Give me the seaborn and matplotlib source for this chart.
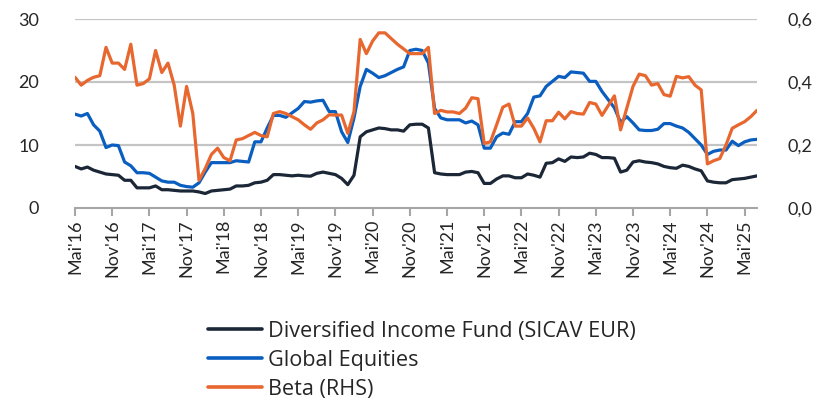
import numpy as np
import pandas as pd
import matplotlib
matplotlib.use("Agg")
import matplotlib.pyplot as plt
import seaborn as sns

# ---- data (monthly, May 2016 .. Jul 2025) ----
start_month = "2016-05-01"
diversified = [6.6, 6.2, 6.5, 6.0, 5.7, 5.4, 5.3, 5.2, 4.4, 4.4, 3.2, 3.2, 3.2, 3.5, 2.9, 2.9, 2.8, 2.7, 2.7,
               2.7, 2.55, 2.3, 2.7, 2.8, 2.9, 3.0, 3.5, 3.5, 3.6, 4.0, 4.1, 4.4, 5.3, 5.3, 5.2, 5.1, 5.2,
               5.1, 5.05, 5.5, 5.7, 5.5, 5.3, 4.7, 3.7, 5.2, 11.3, 12.1, 12.4, 12.7, 12.6, 12.4, 12.4, 12.2, 13.2, 13.3, 13.3, 12.7,
               5.6, 5.4, 5.3, 5.3, 5.3, 5.7, 5.8, 5.6, 3.9, 3.9, 4.6, 5.1, 5.1, 4.8, 4.8, 5.4, 5.2, 4.9,
               7.1, 7.2, 7.8, 7.4, 8.1, 8.0, 8.1, 8.7, 8.5, 8.0, 8.0, 7.9, 5.7, 6.0, 7.3, 7.5,
               7.3, 7.2, 7.0, 6.6, 6.4, 6.3, 6.8, 6.6, 6.2, 5.9, 4.3, 4.1, 4.0, 4.0, 4.5, 4.6, 4.7, 4.9, 5.1]
global_eq = [14.9, 14.6, 15.0, 13.2, 12.2, 9.6, 10.0, 9.9, 7.3, 6.7, 5.6, 5.6, 5.5, 4.9, 4.3, 4.1, 4.1, 3.6, 3.4,
             3.3, 4.0, 5.7, 7.2, 7.2, 7.2, 7.2, 7.5, 7.4, 7.3, 10.5, 10.5, 12.7, 14.7, 14.7, 14.4, 15.1, 15.8,
             16.9, 16.8, 17.0, 17.1, 15.3, 15.3, 12.1, 10.4, 14.3, 19.3, 22.0, 21.4, 20.7, 21.0, 21.5, 22.0, 22.4, 25.0, 25.2, 25.0, 23.0,
             15.8, 14.3, 14.0, 14.0, 14.0, 13.5, 13.8, 13.2, 9.5, 9.5, 11.3, 11.9, 11.7, 13.7, 13.7, 15.0, 17.6, 17.8,
             19.3, 20.1, 20.9, 20.7, 21.6, 21.5, 21.4, 20.1, 20.1, 18.5, 17.2, 15.9, 13.6, 14.5, 13.5, 12.4,
             12.3, 12.3, 12.5, 13.4, 13.4, 13.0, 12.7, 12.0, 11.0, 10.0, 8.5, 9.0, 9.2, 9.2, 10.6, 9.9, 10.5, 10.8, 10.9]
beta = [0.415, 0.39, 0.405, 0.415, 0.42, 0.51, 0.46, 0.46, 0.44, 0.52, 0.39, 0.395, 0.41, 0.50, 0.43, 0.46, 0.39, 0.26, 0.386,
        0.30, 0.088, 0.125, 0.17, 0.19, 0.16, 0.15, 0.216, 0.22, 0.23, 0.24, 0.23, 0.226, 0.30, 0.306, 0.30, 0.29, 0.28,
        0.264, 0.25, 0.27, 0.28, 0.296, 0.295, 0.295, 0.237, 0.306, 0.535, 0.49, 0.53, 0.556, 0.556, 0.538, 0.52, 0.505, 0.49, 0.49, 0.49, 0.51,
        0.30, 0.31, 0.305, 0.305, 0.30, 0.317, 0.35, 0.347, 0.205, 0.21, 0.264, 0.32, 0.33, 0.26, 0.26, 0.286, 0.253, 0.21,
        0.277, 0.277, 0.304, 0.283, 0.306, 0.30, 0.298, 0.335, 0.33, 0.294, 0.325, 0.356, 0.248, 0.317, 0.386, 0.425,
        0.42, 0.39, 0.395, 0.36, 0.355, 0.418, 0.413, 0.417, 0.39, 0.375, 0.14, 0.15, 0.157, 0.20, 0.253, 0.264, 0.274, 0.29, 0.31]
tick_labels = ["Mai'16", "Nov'16", "Mai'17", "Nov'17", "Mai'18", "Nov'18", "Mai'19", "Nov'19",
               "Mai'20", "Nov'20", "Mai'21", "Nov'21", "Mai'22", "Nov'22", "Mai'23", "Nov'23",
               "Mai'24", "Nov'24", "Mai'25"]
left_ticks = [0, 10, 20, 30]
right_ticks = [0.0, 0.2, 0.4, 0.6]
names = ["Diversified Income Fund (SICAV EUR)", "Global Equities", "Beta (RHS)"]
colors = ["#1b2737", "#0a5ec0", "#e8672f"]

n = len(diversified)
months = np.arange(n)
df = pd.DataFrame({"m": np.concatenate([months, months]),
                   "value": diversified + global_eq,
                   "series": [names[0]] * n + [names[1]] * n})
df_beta = pd.DataFrame({"m": months, "beta": beta})

sns.set_theme(style="white")
plt.rcParams["font.family"] = ["Lato", "DejaVu Sans"]

LW = 2.3
fig = plt.figure(figsize=(8.35, 4.04), dpi=100)
ax = fig.add_axes([75 / 835, 1 - 208 / 404, (757 - 75) / 835, (208 - 19) / 404])
sns.lineplot(data=df, x="m", y="value", hue="series", palette=colors[:2], linewidth=LW,
             ax=ax, legend=False)
ax2 = ax.twinx()
sns.lineplot(data=df_beta, x="m", y="beta", color=colors[2], linewidth=LW, ax=ax2, legend=False)

ax.set_xlim(0, n - 1)
ax.set_ylim(0, 30)
ax2.set_ylim(0, 0.6)
ax.set_yticks(left_ticks)
ax.set_yticklabels([str(t) for t in left_ticks])
ax2.set_yticks(right_ticks)
ax2.set_yticklabels([f"{t:.1f}".replace(".", ",") for t in right_ticks])
ax.set_xticks(np.arange(0, n, 6)[:len(tick_labels)])
ax.set_xticklabels(tick_labels, rotation=90)
ax.set_xlabel("")
ax.set_ylabel("")
ax2.set_ylabel("")

for a in (ax, ax2):
    for s in a.spines.values():
        s.set_visible(False)
ax.spines["bottom"].set_visible(True)
ax.spines["bottom"].set_color("#a6a6a6")
ax.spines["bottom"].set_linewidth(1.5)
ax.grid(axis="y", color="#c4c4c4", linewidth=1.6)
ax.set_axisbelow(True)
ax.tick_params(axis="x", bottom=True, length=6, width=1.5, color="#a6a6a6",
               labelsize=13, labelcolor="#262626", pad=2)
ax.tick_params(axis="y", left=False, labelsize=13, labelcolor="#262626", pad=20)
ax2.tick_params(axis="y", right=False, labelsize=13, labelcolor="#262626", pad=16)
ax.yaxis.get_gridlines()[0].set_visible(False)

handles = [plt.Line2D([], [], color=c, linewidth=LW + 0.3) for c in colors]
fig.legend(handles, names, loc="upper left", bbox_to_anchor=(208 / 835, 1 - 321 / 404),
           frameon=False, prop={"family": ["Open Sans", "DejaVu Sans"], "size": 15.6},
           handlelength=2.5, handletextpad=0.27,
           labelspacing=0.36, borderaxespad=0, borderpad=0,
           labelcolor="#262626")

fig.savefig("out.png", dpi=100)
